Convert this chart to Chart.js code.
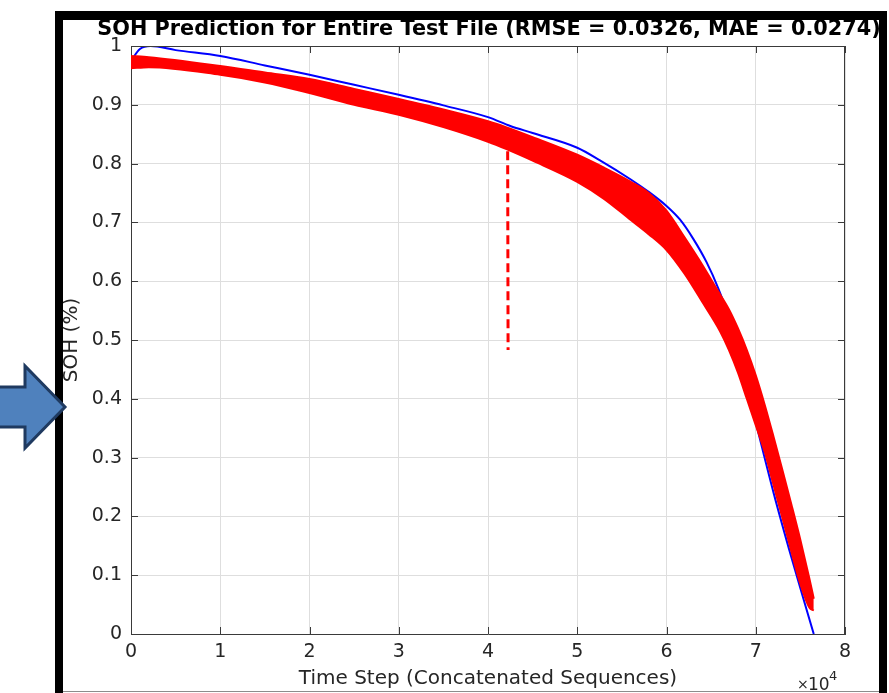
<!DOCTYPE html>
<html>
<head>
<meta charset="utf-8">
<script src="https://cdn.jsdelivr.net/npm/chart.js@4.4.1/dist/chart.umd.min.js"></script>
<style>
  html, body { margin: 0; padding: 0; background: #fff; }
  #wrap { position: absolute; left: 0; top: 0; width: 889px; height: 693px; }
</style>
</head>
<body>
<div id="wrap"><canvas id="soh" width="889" height="693"></canvas></div>
<script>
/* SOH prediction vs. true SOH over concatenated test sequences. */
const TITLE = "SOH Prediction for Entire Test File (RMSE = 0.0326, MAE = 0.0274)";
const X_TICKS = [0, 10000, 20000, 30000, 40000, 50000, 60000, 70000, 80000];
const Y_TICKS = [0, 0.1, 0.2, 0.3, 0.4, 0.5, 0.6, 0.7, 0.8, 0.9, 1];

// true SOH (blue)
const trueX = [0, 1000, 2200, 5000, 10000, 15000, 20000, 25000, 30000, 35000, 40000, 42500, 45000,
  50000, 52500, 56000, 58000, 60000, 61500, 63000, 64500, 65800, 66800, 68500, 70000, 72000, 74000, 76500];
const trueY = [0.975, 0.995, 1.0, 0.993, 0.983, 0.967, 0.951, 0.934, 0.917, 0.899, 0.879, 0.864, 0.852,
  0.827, 0.806, 0.773, 0.752, 0.728, 0.705, 0.672, 0.632, 0.588, 0.546, 0.45, 0.36, 0.24, 0.13, 0.0];

// predicted SOH (red) – the noisy band, as its upper edge ...
const hiX = [0, 2000, 10000, 15000, 20000, 25000, 30000, 35000, 40000, 42000, 45000, 50000,
  53000, 56000, 58000, 60000, 62000, 64000, 65700, 67000, 68000, 69000, 70000, 71000, 72000,
  73000, 74000, 75000, 76000, 76500];
const hiY = [0.983, 0.981, 0.966, 0.955, 0.944, 0.927, 0.91, 0.892, 0.872, 0.862, 0.845, 0.815,
  0.793, 0.769, 0.75, 0.72, 0.675, 0.628, 0.585, 0.552, 0.52, 0.483, 0.44, 0.39, 0.335,
  0.278, 0.22, 0.16, 0.095, 0.06];
// ... and its lower edge
const loX = [0, 2000, 10000, 15000, 20000, 25000, 30000, 35000, 40000, 42000, 45000, 50000,
  53000, 56000, 58000, 60000, 62000, 64000, 66000, 67000, 68000, 69000, 70000, 71000, 72000,
  73000, 74000, 75000, 76000, 76500];
const loY = [0.962, 0.964, 0.951, 0.938, 0.92, 0.90, 0.883, 0.862, 0.837, 0.825, 0.805, 0.769,
  0.74, 0.704, 0.68, 0.653, 0.613, 0.565, 0.515, 0.483, 0.445, 0.40, 0.355, 0.31, 0.253,
  0.197, 0.14, 0.085, 0.045, 0.04];

// single outlier drop (dashed)
const dropX = [42200, 42250];
const dropY = [0.845, 0.483];

const AX = "#3a3a3a", TXT = "#262626", GRID = "#dedede";
const pts = (xs, ys) => xs.map((x, i) => ({ x, y: ys[i] }));

const decor = {
  id: "decor",
  afterDraw(chart) {
    const { ctx, chartArea: a, scales: { x, y } } = chart;
    ctx.save();
    // box top/right + inward ticks
    ctx.strokeStyle = AX; ctx.lineWidth = 1;
    ctx.beginPath();
    ctx.moveTo(a.left, a.top + 0.5); ctx.lineTo(a.right, a.top + 0.5);
    ctx.moveTo(a.right - 0.5, a.top); ctx.lineTo(a.right - 0.5, a.bottom);
    X_TICKS.forEach((v) => {
      const px = Math.round(x.getPixelForValue(v)) + 0.5;
      ctx.moveTo(px, a.bottom); ctx.lineTo(px, a.bottom - 7);
      ctx.moveTo(px, a.top); ctx.lineTo(px, a.top + 7);
    });
    Y_TICKS.forEach((v) => {
      const py = Math.round(y.getPixelForValue(v)) + 0.5;
      ctx.moveTo(a.left, py); ctx.lineTo(a.left + 7, py);
      ctx.moveTo(a.right, py); ctx.lineTo(a.right - 7, py);
    });
    ctx.stroke();

    // title
    ctx.fillStyle = "#000";
    ctx.font = "bold 20.8px 'DejaVu Sans'";
    ctx.textAlign = "center"; ctx.textBaseline = "middle";
    ctx.fillText(TITLE, (a.left + a.right) / 2 + 1, 30);

    // exponent label
    ctx.fillStyle = TXT; ctx.textAlign = "left"; ctx.textBaseline = "alphabetic";
    ctx.font = "14px 'DejaVu Sans'";
    ctx.fillText("\u00d7", 797, 689);
    ctx.font = "17px 'DejaVu Sans'";
    ctx.fillText("10", 808, 690);
    ctx.font = "13px 'DejaVu Sans'";
    ctx.fillText("4", 829, 680);

    // figure frame
    ctx.fillStyle = "#000";
    ctx.fillRect(55, 11, 832, 9);
    ctx.fillRect(55, 11, 8, 682);
    ctx.fillRect(879, 11, 8, 682);
    ctx.fillStyle = "#8c8c8c";
    ctx.fillRect(63, 691, 816, 1);

    // pointer arrow at the left
    ctx.beginPath();
    ctx.moveTo(-2, 387); ctx.lineTo(25, 387); ctx.lineTo(25, 366); ctx.lineTo(65, 407);
    ctx.lineTo(25, 448); ctx.lineTo(25, 427); ctx.lineTo(-2, 427); ctx.closePath();
    ctx.fillStyle = "#4f81bd"; ctx.fill();
    ctx.lineWidth = 3; ctx.strokeStyle = "#1f3a60"; ctx.lineJoin = "miter"; ctx.stroke();
    ctx.restore();
  },
};

new Chart(document.getElementById("soh"), {
  type: "line",
  data: {
    datasets: [
      { data: pts(dropX, dropY), borderColor: "#ff0000", borderWidth: 3, borderDash: [9, 5], pointRadius: 0, tension: 0, fill: false },
      { data: pts(hiX, hiY), borderColor: "#ff0000", backgroundColor: "#ff0000", borderWidth: 2, pointRadius: 0,
        cubicInterpolationMode: "monotone", fill: "+1" },
      { data: pts(loX, loY), borderColor: "#ff0000", borderWidth: 2, pointRadius: 0, cubicInterpolationMode: "monotone", fill: false },
      { data: pts(trueX, trueY), borderColor: "#0000ff", borderWidth: 2, pointRadius: 0, cubicInterpolationMode: "monotone", fill: false },
    ],
  },
  options: {
    responsive: false, animation: false,
    layout: { padding: { left: 0, top: 46, right: 44, bottom: 0 } },
    plugins: { legend: { display: false }, tooltip: { enabled: false } },
    scales: {
      x: {
        type: "linear", min: 0, max: 80000,
        afterFit: (s) => { s.height = 59; },
        afterBuildTicks: (s) => { s.ticks = X_TICKS.map((v) => ({ value: v })); },
        ticks: { color: TXT, padding: 7, font: { family: "DejaVu Sans", size: 19 }, maxRotation: 0, callback: (v) => String(v / 10000) },
        grid: { color: GRID, drawTicks: false },
        border: { color: AX },
        title: { display: true, text: "Time Step (Concatenated Sequences)", color: TXT, font: { family: "DejaVu Sans", size: 20 }, padding: { bottom: 2 } },
      },
      y: {
        min: 0, max: 1,
        afterFit: (s) => { s.width = 131; },
        afterBuildTicks: (s) => { s.ticks = Y_TICKS.map((v) => ({ value: v })); },
        ticks: { color: TXT, padding: 9, font: { family: "DejaVu Sans", size: 19 }, callback: (v) => String(Math.round(v * 10) / 10) },
        grid: { color: GRID, drawTicks: false },
        border: { color: AX },
        title: { display: true, text: "SOH (%)", color: TXT, font: { family: "DejaVu Sans", size: 20 }, padding: { top: 60 } },
      },
    },
  },
  plugins: [decor],
});
</script>
</body>
</html>
